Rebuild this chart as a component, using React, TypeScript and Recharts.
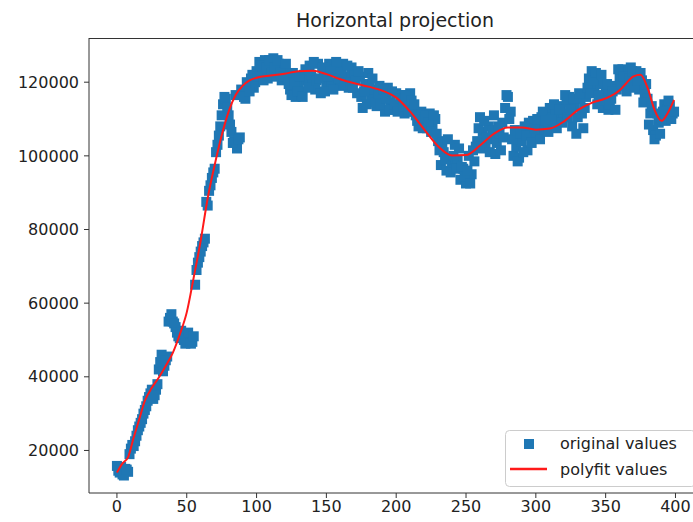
import React from 'react';
import { ComposedChart, Scatter, Line, XAxis, YAxis } from 'recharts';

// Original values, even x positions
const pointXEven = [
  0, 2, 4, 6, 8, 10, 12, 14, 16, 18, 20, 22, 24, 26, 28, 30, 32, 34, 36, 38,
  40, 42, 44, 46, 48, 50, 52, 54, 56, 58, 60, 62, 64, 66, 68, 70, 72, 74, 76, 78,
  80, 82, 84, 86, 88, 90, 92, 94, 96, 98, 100, 102, 104, 106, 108, 110, 112, 114, 116, 118,
  120, 122, 124, 126, 128, 130, 132, 134, 136, 138, 140, 142, 144, 146, 148, 150, 152, 154, 156, 158,
  160, 162, 164, 166, 168, 170, 172, 174, 176, 178, 180, 182, 184, 186, 188, 190, 192, 194, 196, 198,
  200, 202, 204, 206, 208, 210, 212, 214, 216, 218, 220, 222, 224, 226, 228, 230, 232, 234, 236, 238,
  240, 242, 244, 246, 248, 250, 252, 254, 256, 258, 260, 262, 264, 266, 268, 270, 272, 274, 276, 278,
  280, 282, 284, 286, 288, 290, 292, 294, 296, 298, 300, 302, 304, 306, 308, 310, 312, 314, 316, 318,
  320, 322, 324, 326, 328, 330, 332, 334, 336, 338, 340, 342, 344, 346, 348, 350, 352, 354, 356, 358,
  360, 362, 364, 366, 368, 370, 372, 374, 376, 378, 380, 382, 384, 386, 388, 390, 392, 394, 396, 398,
];

const originalValuesEven = [
  15800, 14000, 13500, 15000, 14200, 20500, 21200, 24000, 26500, 28500,
  31000, 33500, 35500, 34000, 36500, 42000, 46000, 43000, 45500, 56000,
  55000, 53500, 51000, 52500, 50000, 51500, 50500, 49500, 65000, 71000,
  74000, 76500, 87500, 90500, 94000, 96500, 103000, 108000, 114000, 115500,
  111000, 106500, 104000, 102000, 105000, 117000, 115500, 119500, 121000, 118500,
  123000, 125500, 122000, 126000, 121000, 124500, 126500, 121500, 125000, 120500,
  124000, 121000, 118000, 122500, 116000, 119000, 117500, 122000, 120500, 124500,
  121000, 118000, 125000, 117000, 122500, 119500, 125000, 120000, 123500, 124500,
  119000, 125000, 121500, 118500, 124000, 122000, 117000, 121500, 113000, 119500,
  122500, 115500, 118000, 113500, 119000, 116500, 112000, 118500, 114500, 112500,
  117000, 113000, 116500, 111500, 114000, 117000, 112000, 111000, 108000, 112000,
  109500, 107500, 111500, 108500, 110000, 104000, 97500, 101000, 96000, 99500,
  97000, 103000, 99000, 93500, 96500, 92500, 100000, 95000, 98500, 104000,
  110500, 106500, 102500, 108000, 104500, 111000, 103500, 106000, 109000, 113000,
  116000, 112000, 100000, 102500, 99500, 104000, 108000, 101500, 106000, 109500,
  105500, 108000, 110500, 107000, 111000, 113000, 108500, 112000, 110000, 113500,
  111500, 114500, 116000, 108000, 113500, 110500, 115500, 107500, 116000, 121000,
  123000, 118000, 114000, 119500, 113000, 117000, 112500, 115500, 119000, 118000,
  121500, 123500, 119000, 122500, 124000, 120500, 123000, 118000, 120500, 117000,
  115500, 111500, 107000, 105500, 109000, 110000, 114000, 112500, 113500, 111500,
];

// Original values, odd x positions
const pointXOdd = [
  1, 3, 5, 7, 9, 11, 13, 15, 17, 19, 21, 23, 25, 27, 29, 31, 33, 35, 37, 39,
  41, 43, 45, 47, 49, 51, 53, 55, 57, 59, 61, 63, 65, 67, 69, 71, 73, 75, 77, 79,
  81, 83, 85, 87, 89, 91, 93, 95, 97, 99, 101, 103, 105, 107, 109, 111, 113, 115, 117, 119,
  121, 123, 125, 127, 129, 131, 133, 135, 137, 139, 141, 143, 145, 147, 149, 151, 153, 155, 157, 159,
  161, 163, 165, 167, 169, 171, 173, 175, 177, 179, 181, 183, 185, 187, 189, 191, 193, 195, 197, 199,
  201, 203, 205, 207, 209, 211, 213, 215, 217, 219, 221, 223, 225, 227, 229, 231, 233, 235, 237, 239,
  241, 243, 245, 247, 249, 251, 253, 255, 257, 259, 261, 263, 265, 267, 269, 271, 273, 275, 277, 279,
  281, 283, 285, 287, 289, 291, 293, 295, 297, 299, 301, 303, 305, 307, 309, 311, 313, 315, 317, 319,
  321, 323, 325, 327, 329, 331, 333, 335, 337, 339, 341, 343, 345, 347, 349, 351, 353, 355, 357, 359,
  361, 363, 365, 367, 369, 371, 373, 375, 377, 379, 381, 383, 385, 387, 389, 391, 393, 395, 397, 399,
];

const originalValuesOdd = [
  14500, 15500, 13200, 14800, 19000, 21500, 22500, 25500, 27500, 30000,
  32000, 34500, 36500, 35000, 38000, 44000, 41500, 44500, 55000, 57000,
  54500, 52000, 50500, 51500, 49000, 52000, 49000, 51000, 69000, 72500,
  75500, 77500, 86500, 92000, 95500, 101000, 105500, 111000, 116000, 113000,
  108500, 103500, 116500, 104500, 118000, 116000, 120000, 117500, 122000, 120000,
  121500, 124500, 120500, 124000, 126000, 122500, 124000, 126000, 122500, 121500,
  125000, 119500, 116500, 120000, 117500, 121500, 116000, 123500, 118500, 122000,
  125500, 120500, 121000, 124000, 117500, 121500, 123000, 118000, 125500, 121000,
  122500, 119500, 124500, 120000, 118500, 120500, 123000, 116000, 117500, 114000,
  119500, 121000, 114500, 117000, 114000, 118000, 115500, 112500, 117500, 114000,
  112000, 115500, 113500, 116500, 112000, 115000, 114000, 109500, 110500, 107500,
  111000, 109000, 106500, 111000, 106000, 101500, 103500, 99000, 104500, 95500,
  100000, 96500, 102000, 97000, 94500, 96000, 92500, 101500, 102500, 107500,
  102000, 109500, 105000, 101000, 107000, 100500, 108000, 101500, 105000, 116500,
  110000, 104500, 107000, 98500, 106000, 101000, 105500, 109000, 103500, 107500,
  110000, 104500, 112000, 109500, 106500, 110000, 114000, 107500, 112500, 109000,
  116500, 110500, 112500, 115500, 106000, 117000, 111500, 113000, 118500, 117000,
  120500, 122500, 116500, 122000, 115000, 119500, 114000, 117500, 112500, 123500,
  119500, 121500, 117500, 121000, 123000, 118500, 120500, 122500, 114500, 119500,
  108500, 113500, 104500, 111500, 106000, 112000, 109500, 115000, 110000, 112000,
];

// Polyfit curve samples
const fitX = [
  0, 4, 8, 12, 16, 20, 25, 30, 35, 40, 45, 50, 55, 60, 65, 70, 75, 80, 85, 90,
  95, 100, 110, 120, 130, 140, 150, 160, 170, 180, 190, 200, 210, 220, 230, 240, 250, 260, 270, 280,
  290, 300, 310, 320, 330, 340, 350, 360, 365, 370, 375, 380, 385, 390, 395, 399,
];

const fitValues = [
  14000, 16500, 18200, 23500, 28500, 33500, 37000, 39800, 43000, 46500,
  51500, 57500, 67000, 77000, 88500, 97500, 105500, 112000, 116500, 119000,
  120500, 121200, 121800, 122300, 123000, 123100, 122200, 120800, 119700, 118800,
  117700, 115800, 112000, 107200, 102600, 100100, 100200, 102800, 106000, 107700,
  107700, 107100, 107400, 109300, 112400, 114400, 115600, 117800, 119800, 121600,
  122000, 118500, 112500, 109500, 112000, 115200,
];

const xTicks = [0, 50, 100, 150, 200, 250, 300, 350, 400];
const yTicks = [20000, 40000, 60000, 80000, 100000, 120000];

const scatterData = [
  ...pointXEven.map((x, i) => ({ x, y: originalValuesEven[i] })),
  ...pointXOdd.map((x, i) => ({ x, y: originalValuesOdd[i] })),
];
const fitData = fitX.map((x, i) => ({ x, y: fitValues[i] }));

const FONT = '"DejaVu Sans", Verdana, sans-serif';
const BLUE = '#1f77b4';
const RED = '#ff1a1a';

function Square(props: any) {
  const { cx, cy } = props;
  if (cx == null || cy == null) return null;
  return <rect x={cx - 5} y={cy - 5} width={10} height={10} fill={BLUE} />;
}

export default function App() {
  const tickStyle = { fill: '#222', fontSize: 16, fontFamily: FONT };
  const lineProps: any = { zIndex: 900 };
  const scatterProps: any = { zIndex: 500 };
  return (
    <div
      style={{
        position: 'absolute',
        left: 0,
        top: 0,
        width: 693,
        height: 522,
        overflow: 'hidden',
        background: '#fff',
      }}
    >
      <ComposedChart width={730} height={522} margin={{ top: 38, right: 28, bottom: 0, left: 9 }}>
        <XAxis
          dataKey="x"
          type="number"
          domain={[-20, 419]}
          ticks={xTicks}
          interval={0}
          allowDataOverflow
          tickSize={5}
          tickMargin={3}
          height={29}
          stroke="#333"
          tick={tickStyle}
        />
        <YAxis
          dataKey="y"
          type="number"
          domain={[8450, 132000]}
          ticks={yTicks}
          interval={0}
          allowDataOverflow
          width={80}
          tickSize={5}
          tickMargin={5}
          stroke="#333"
          tick={tickStyle}
        />
        <Scatter
          data={scatterData}
          dataKey="y"
          shape={(p: any) => <Square {...p} />}
          isAnimationActive={false}
          {...scatterProps}
        />
        <Line
          data={fitData}
          dataKey="y"
          type="monotone"
          stroke={RED}
          strokeWidth={2}
          dot={false}
          activeDot={false}
          isAnimationActive={false}
          {...lineProps}
        />
      </ComposedChart>
      <svg
        width={693}
        height={522}
        style={{ position: 'absolute', left: 0, top: 0, pointerEvents: 'none' }}
      >
        <line x1={89} x2={693} y1={38.5} y2={38.5} stroke="#333" strokeWidth={1} />
        <text x={395} y={27} textAnchor="middle" fontSize={19} fontFamily={FONT} fill="#222">
          Horizontal projection
        </text>
        <rect x={505.5} y={430.5} width={190} height={56} rx={4} fill="#fff" fillOpacity={0.8} stroke="#ccc" />
        <rect x={524} y={439} width={10} height={10} fill={BLUE} />
        <line x1={510} x2={547} y1={469} y2={469} stroke={RED} strokeWidth={2.5} />
        <text x={560} y={449} fontSize={16} fontFamily={FONT} fill="#222">
          original values
        </text>
        <text x={560} y={475} fontSize={16} fontFamily={FONT} fill="#222">
          polyfit values
        </text>
      </svg>
    </div>
  );
}
